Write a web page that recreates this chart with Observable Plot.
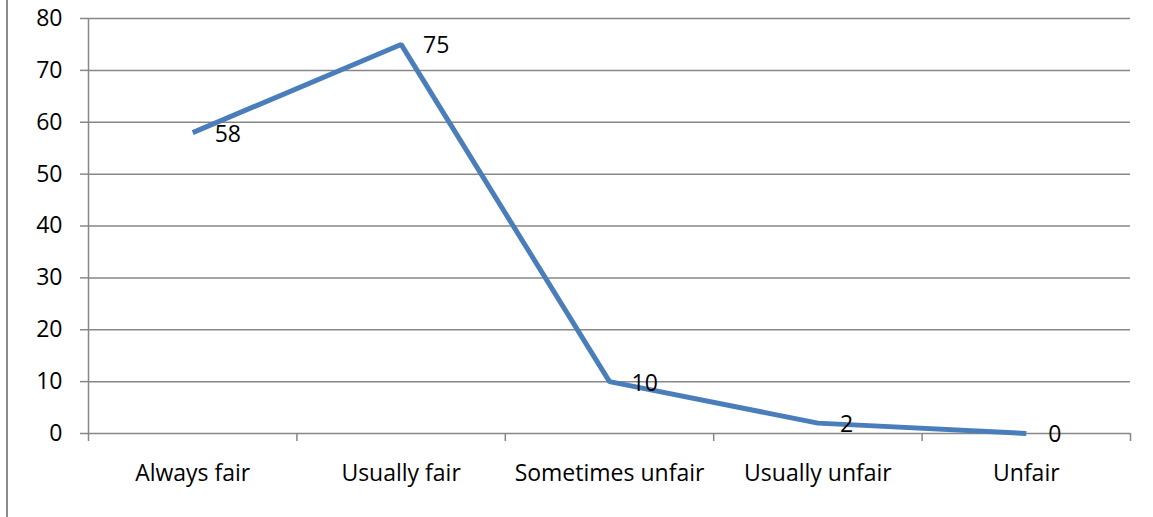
<!DOCTYPE html>
<html>
<head>
<meta charset="utf-8">
<script src="https://cdn.jsdelivr.net/npm/d3@7"></script>
<script src="https://cdn.jsdelivr.net/npm/@observablehq/plot@0.6"></script>
<style>
  html, body { margin: 0; padding: 0; background: #fff; }
  #wrap { position: relative; width: 1153px; height: 517px; overflow: hidden; }
  #frame { position: absolute; left: 6px; top: 0; width: 2px; height: 517px; background: #8a8a8a; }
  svg { font-family: "Open Sans", Lato, sans-serif; }
</style>
</head>
<body>
<div id="wrap"><div id="frame"></div></div>
<script>
const categories = ["Always fair", "Usually fair", "Sometimes unfair", "Usually unfair", "Unfair"];
const values = [58, 75, 10, 2, 0];
const yTicks = [0, 10, 20, 30, 40, 50, 60, 70, 80];

const data = categories.map((c, i) => ({category: c, idx: i + 0.5, value: values[i]}));
const bandEdges = d3.range(categories.length + 1);
const centers = categories.map((c, i) => i + 0.5);

const grey = "#878787";
const blue = "#4a7ebb";
const fs = 23;

const chart = Plot.plot({
  width: 1153,
  height: 517,
  marginLeft: 88,
  marginRight: 23,
  marginTop: 18,
  marginBottom: 84,
  style: {fontSize: fs + "px", color: "#000", background: "transparent"},
  x: {domain: [0, categories.length]},
  y: {domain: [0, 80]},
  marks: [
    Plot.gridY(yTicks, {stroke: grey, strokeOpacity: 1, strokeWidth: 1.5}),
    Plot.ruleX([0], {stroke: grey, strokeWidth: 1.5}),
    Plot.axisY({ticks: yTicks, tickSize: 8, tickPadding: 18, stroke: grey, strokeOpacity: 1, strokeWidth: 1.5, fill: "#000", label: null, fontSize: fs}),
    Plot.axisX({ticks: bandEdges, tickSize: 8, tickFormat: () => "", stroke: grey, strokeOpacity: 1, strokeWidth: 1.5, label: null}),
    Plot.axisX({ticks: centers, tickSize: 0, tickPadding: 31, tickFormat: d => categories[Math.round(d - 0.5)], fill: "#000", label: null, fontSize: fs}),
    Plot.line(data, {x: "idx", y: "value", stroke: blue, strokeWidth: 5, strokeLinejoin: "miter", strokeLinecap: "butt"}),
    Plot.text(data, {x: "idx", y: "value", text: d => String(d.value), dx: 22, dy: 1.5, textAnchor: "start", fill: "#000", fontSize: fs})
  ]
});
document.getElementById("wrap").prepend(chart);
</script>
</body>
</html>
